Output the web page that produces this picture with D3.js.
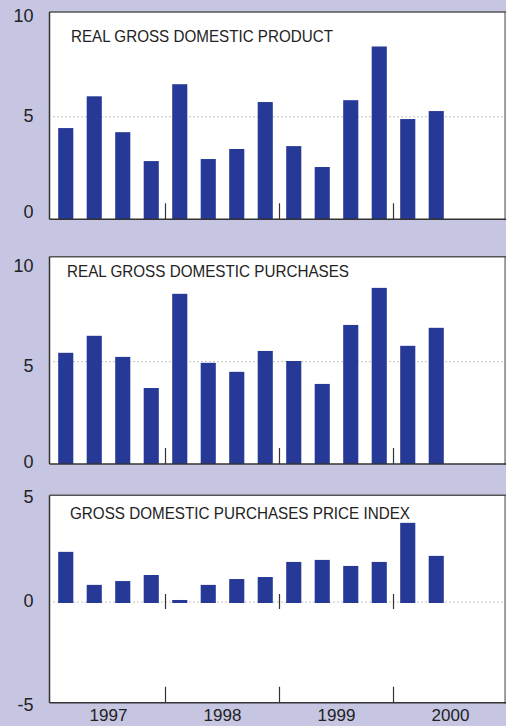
<!DOCTYPE html>
<html>
<head>
<meta charset="utf-8">
<script src="https://cdn.jsdelivr.net/npm/d3@7"></script>
<style>
  html, body { margin: 0; padding: 0; background: #c6c6e2; }
  svg { display: block; }
  text { font-family: "Liberation Sans", Arial, sans-serif; fill: #222; }
</style>
</head>
<body>
<svg id="chart" width="506" height="726"></svg>
<script>
// ---- data ----
const quarters = ["1997Q1","1997Q2","1997Q3","1997Q4","1998Q1","1998Q2","1998Q3","1998Q4",
                  "1999Q1","1999Q2","1999Q3","1999Q4","2000Q1","2000Q2","2000Q3","2000Q4"];
const years = ["1997", "1998", "1999", "2000"];
const titles = ["REAL GROSS DOMESTIC PRODUCT", "REAL GROSS DOMESTIC PURCHASES", "GROSS DOMESTIC PURCHASES PRICE INDEX"];
const gdp = [4.45, 6.0, 4.25, 2.84, 6.59, 2.94, 3.43, 5.72, 3.57, 2.55, 5.81, 8.43, 4.89, 5.28];
const purchases = [5.43, 6.26, 5.23, 3.71, 8.31, 4.94, 4.50, 5.52, 5.03, 3.91, 6.79, 8.60, 5.77, 6.65];
const priceIndex = [2.49, 0.85, 1.04, 1.34, 0.10, 0.85, 1.14, 1.24, 1.99, 2.09, 1.79, 1.99, 3.93, 2.29];
const ticksA = [0, 5, 10];
const ticksB = [-5, 0, 5];

// ---- layout / style ----
const svg = d3.select("#chart");
const left = 49.5, right = 505;
const x = d3.scaleBand().domain(quarters).range([51.5, 507.5]).paddingInner(0.47).paddingOuter(0.235);
const xYear = d3.scaleBand().domain(years).range([51.5, 507.5]);

const panels = [
  { title: titles[0], values: gdp, domain: [0, 10], range: [219.3, 14.3], top: 12, ticks: ticksA,
    labelDy: { 0: -2, 5: 5, 10: 7 }, titleX: 71, titleY: 42, titleLen: 262 },
  { title: titles[1], values: purchases, domain: [0, 10], range: [464, 259.2], top: 256.7, ticks: ticksA,
    labelDy: { 0: 3, 5: 10, 10: 12 }, titleX: 67, titleY: 276.5, titleLen: 282 },
  { title: titles[2], values: priceIndex, domain: [-5, 5], range: [702.7, 501.3], top: 495.3, ticks: ticksB,
    labelDy: { "-5": 8, 0: 4, 5: 1.5 }, titleX: 70, titleY: 519, titleLen: 340 }
];

panels.forEach(p => {
  const y = d3.scaleLinear().domain(p.domain).range(p.range);
  const bottom = p.range[0];
  const g = svg.append("g");

  // plot area
  g.append("rect").attr("x", left).attr("y", p.top).attr("width", right - left).attr("height", bottom - p.top)
    .attr("fill", "#fff");
  // right border (gray)
  g.append("line").attr("x1", right).attr("x2", right).attr("y1", p.top).attr("y2", bottom + 1)
    .attr("stroke", "#888").attr("stroke-width", 1.5);
  // top border
  g.append("line").attr("x1", left).attr("x2", right + 1).attr("y1", p.top).attr("y2", p.top)
    .attr("stroke", "#555").attr("stroke-width", 1.5);

  // dotted reference line at 5 (top panels) or 0 (bottom)
  const refVal = p.domain[0] < 0 ? 0 : 5;
  g.append("line").attr("x1", left + 4).attr("x2", right - 1).attr("y1", y(refVal)).attr("y2", y(refVal))
    .attr("stroke", "#888").attr("stroke-width", 1).attr("stroke-dasharray", "1,3");

  // title
  g.append("text").attr("x", p.titleX).attr("y", p.titleY)
    .attr("font-size", 17).attr("textLength", p.titleLen).attr("lengthAdjust", "spacingAndGlyphs")
    .attr("fill", "#222").text(p.title);

  // bars
  g.selectAll("rect.bar").data(p.values).join("rect").attr("class", "bar")
    .attr("x", (d, i) => x(quarters[i]))
    .attr("width", x.bandwidth())
    .attr("y", d => Math.min(y(d), y(0)))
    .attr("height", d => Math.max(1.5, Math.abs(y(d) - y(0)) + (p.domain[0] < 0 ? 1 : 0)))
    .attr("fill", "#273996");

  // year separators
  const seps = years.slice(1).map(yr => xYear(yr));
  g.selectAll("line.sep").data(seps).join("line").attr("class", "sep")
    .attr("x1", d => d).attr("x2", d => d).attr("y1", bottom - 16).attr("y2", bottom)
    .attr("stroke", "#333").attr("stroke-width", 1.2);
  if (p.domain[0] < 0) {
    g.selectAll("line.sep0").data(seps).join("line").attr("class", "sep0")
      .attr("x1", d => d).attr("x2", d => d).attr("y1", y(0) - 8).attr("y2", y(0) + 7)
      .attr("stroke", "#333").attr("stroke-width", 1.2);
  }

  // left & bottom axis lines
  g.append("line").attr("x1", left).attr("x2", left).attr("y1", p.top).attr("y2", bottom)
    .attr("stroke", "#333").attr("stroke-width", 1.5);
  g.append("line").attr("x1", left).attr("x2", right + 1).attr("y1", bottom).attr("y2", bottom)
    .attr("stroke", "#333").attr("stroke-width", 1.5);

  // y tick labels via d3 axis
  const ax = g.append("g").attr("transform", `translate(${left - 16},0)`)
    .call(d3.axisLeft(y).tickValues(p.ticks).tickSize(0).tickPadding(0).tickFormat(d => String(d)));
  ax.select(".domain").remove();
  ax.selectAll("text").attr("font-size", 18).attr("fill", "#222")
    .attr("font-family", "'Liberation Sans', Arial, sans-serif")
    .attr("dy", null)
    .attr("y", d => p.labelDy[d]);
});

// year labels
svg.selectAll("text.year").data(years).join("text").attr("class", "year")
  .attr("x", d => xYear(d) + xYear.bandwidth() / 2).attr("y", 721)
  .attr("text-anchor", "middle").attr("font-size", 17).attr("fill", "#222").text(d => d);
</script>
</body>
</html>
